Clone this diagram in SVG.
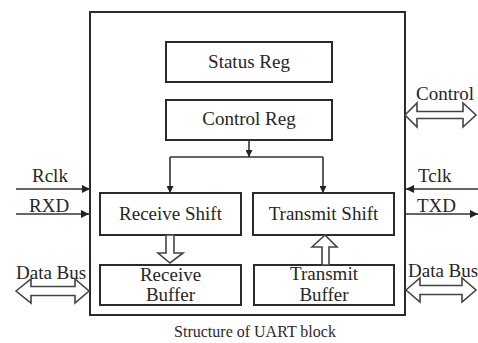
<svg xmlns="http://www.w3.org/2000/svg" width="478" height="343" viewBox="0 0 478 343">
  <style>
    .box { fill: #fff; stroke: #2b2b2b; stroke-width: 2; }
    .wire { fill: none; stroke: #333; stroke-width: 1.6; }
    .bus { fill: #fff; stroke: #444; stroke-width: 1.6; stroke-linejoin: miter; }
  </style>
  <defs>
    <marker id="tip" viewBox="0 0 10 10" refX="10" refY="5" markerWidth="10" markerHeight="7" markerUnits="userSpaceOnUse" orient="auto">
      <path d="M0,0 L10,5 L0,10 Z" fill="#222"/>
    </marker>
    <marker id="tipBig" viewBox="0 0 10 10" refX="10" refY="5" markerWidth="16" markerHeight="8" markerUnits="userSpaceOnUse" orient="auto">
      <path d="M0,0 L10,5 L0,10 Z" fill="#222"/>
    </marker>
  </defs>

  <rect width="478" height="343" fill="#fff"/>

  <!-- UART block outline -->
  <g id="uart">
    <rect class="box" x="90" y="12" width="315" height="303"/>
  </g>

  <g id="status-reg">
    <rect class="box" x="166" y="42" width="166" height="40"/>
    <text x="249" y="68" font-family="Liberation Serif" font-size="19" fill="#262626" text-anchor="middle">Status Reg</text>
  </g>
  <g id="control-reg">
    <rect class="box" x="166" y="100" width="166" height="40"/>
    <text x="249" y="125" font-family="Liberation Serif" font-size="19" fill="#262626" text-anchor="middle">Control Reg</text>
  </g>
  <g id="receive-shift">
    <rect class="box" x="100" y="193" width="141" height="42"/>
    <text x="170.5" y="220" font-family="Liberation Serif" font-size="19" fill="#262626" text-anchor="middle">Receive Shift</text>
  </g>
  <g id="transmit-shift">
    <rect class="box" x="253" y="193" width="141" height="42"/>
    <text x="323.5" y="220" font-family="Liberation Serif" font-size="19" fill="#262626" text-anchor="middle">Transmit Shift</text>
  </g>
  <g id="receive-buffer">
    <rect class="box" x="100" y="265" width="141" height="40"/>
    <text x="170.5" y="281" font-family="Liberation Serif" font-size="19" fill="#262626" text-anchor="middle">Receive</text>
    <text x="170.5" y="301" font-family="Liberation Serif" font-size="19" fill="#262626" text-anchor="middle">Buffer</text>
  </g>
  <g id="transmit-buffer">
    <rect class="box" x="254" y="265" width="140" height="40"/>
    <text x="324" y="280" font-family="Liberation Serif" font-size="19" fill="#262626" text-anchor="middle">Transmit</text>
    <text x="324" y="301" font-family="Liberation Serif" font-size="19" fill="#262626" text-anchor="middle">Buffer</text>
  </g>

  <!-- external signal labels -->
  <g id="labels">
    <text x="32" y="182" font-family="Liberation Serif" font-size="19" fill="#262626">Rclk</text>
    <text x="29" y="212" font-family="Liberation Serif" font-size="19" fill="#262626">RXD</text>
    <text x="16" y="279" font-family="Liberation Serif" font-size="19" fill="#262626">Data Bus</text>
    <text x="418" y="182" font-family="Liberation Serif" font-size="19" fill="#262626">Tclk</text>
    <text x="417" y="212" font-family="Liberation Serif" font-size="19" fill="#262626">TXD</text>
    <text x="408" y="277" font-family="Liberation Serif" font-size="19" fill="#262626">Data Bus</text>
    <text x="416" y="100" font-family="Liberation Serif" font-size="19" fill="#262626">Control</text>
  </g>

  <g id="connectors">
    <!-- control register fan-out -->
    <path class="wire" d="M249,140 V157" marker-end="url(#tip)"/>
    <path class="wire" d="M170,157 H323"/>
    <path class="wire" d="M170,157 V193" marker-end="url(#tip)"/>
    <path class="wire" d="M323,157 V193" marker-end="url(#tip)"/>

    <!-- serial lines -->
    <path class="wire" d="M16,189 H90" marker-end="url(#tipBig)"/>
    <path class="wire" d="M16,214 H89" marker-end="url(#tipBig)"/>
    <path class="wire" d="M478,189 H406" marker-end="url(#tipBig)"/>
    <path class="wire" d="M406,214 H478" marker-end="url(#tipBig)"/>

    <!-- shift register / buffer transfers -->
    <path class="bus" d="M166,235 H174 V253 H183 L170,263 L158,253 H166 Z"/>
    <path class="bus" d="M322,265 V247 H312 L325,235 L337,247 H329 V265 Z"/>

    <!-- bidirectional buses -->
    <path class="bus" d="M16,291 L31,279 V286.5 H75 V279 L89,291 L75,303 V295.5 H31 V303 Z"/>
    <path class="bus" d="M406,290 L420,278 V285.5 H462 V278 L476,290 L462,302 V294.5 H420 V302 Z"/>
    <path class="bus" d="M405,115 L417,103 V111.5 H463 V103 L476,115 L463,127 V118.5 H417 V127 Z"/>
  </g>

  <text x="255" y="337" font-family="Liberation Serif" font-size="16" fill="#2a2a2a" text-anchor="middle">Structure of UART block</text>
</svg>
